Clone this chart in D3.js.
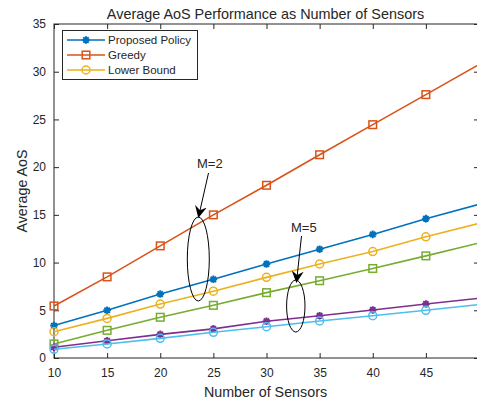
<!DOCTYPE html>
<html><head><meta charset="utf-8">
<script src="https://cdn.jsdelivr.net/npm/d3@7"></script>
<style>body{margin:0;background:#fff}svg{display:block}text{font-family:"Liberation Sans",Arial,sans-serif;fill:#262626}</style>
</head><body><svg id="c" width="477" height="405"></svg>
<script>
const sensors = [10,15,20,25,30,35,40,45,50];
const proposedM2 = [3.4,5.0,6.7,8.25,9.85,11.4,12.95,14.6,16.1];
const greedyM2   = [5.45,8.5,11.75,15.0,18.1,21.3,24.45,27.6,30.75];
const lowerM2    = [2.75,4.15,5.65,7.0,8.45,9.85,11.15,12.7,14.1];
const proposedM5 = [1.12,1.8,2.48,3.05,3.85,4.43,5.03,5.66,6.25];
const greedyM5   = [1.47,2.9,4.27,5.52,6.85,8.1,9.38,10.7,12.05];
const lowerM5    = [0.91,1.47,2.06,2.69,3.28,3.88,4.43,5.0,5.6];
const xTicks = [10,15,20,25,30,35,40,45];
const yTicks = [0,5,10,15,20,25,30,35];
const legendLabels = ["Proposed Policy","Greedy","Lower Bound"];

const series = [
  {v:proposedM2,c:"#0072BD",m:"star"},
  {v:greedyM2,c:"#D95319",m:"square"},
  {v:lowerM2,c:"#EDB120",m:"circle"},
  {v:greedyM5,c:"#77AC30",m:"square"},
  {v:proposedM5,c:"#7E2F8E",m:"star"},
  {v:lowerM5,c:"#4DBEEE",m:"circle"}
];

const svg = d3.select("#c");
const L=54,R=479,T=24,B=358;
const x = d3.scaleLinear().domain([10,50]).range([L,R]);
const y = d3.scaleLinear().domain([0,35]).range([B,T]);

// axes
const ax = svg.append("g");
ax.append("rect").attr("x",L).attr("y",T).attr("width",R-L).attr("height",B-T)
  .attr("fill","none").attr("stroke","#262626").attr("stroke-width",1);
const gx = ax.append("g").attr("transform",`translate(0,${B})`)
  .call(d3.axisBottom(x).tickValues(xTicks).tickSize(-5).tickPadding(10));
const gxt = ax.append("g").attr("transform",`translate(0,${T})`)
  .call(d3.axisTop(x).tickValues(xTicks).tickSize(-5).tickFormat(""));
const gy = ax.append("g").attr("transform",`translate(${L},0)`)
  .call(d3.axisLeft(y).tickValues(yTicks).tickSize(-5).tickPadding(8));
const gyr = ax.append("g").attr("transform",`translate(${R},0)`)
  .call(d3.axisRight(y).tickValues(yTicks).tickSize(-5).tickFormat(""));
[gx,gxt,gy,gyr].forEach(g=>{
  g.select(".domain").remove();
  g.selectAll("line").attr("stroke","#262626");
  g.selectAll("text").attr("font-size",12).attr("fill","#262626")
   .style("font-family","'Liberation Sans',Arial,sans-serif");
});

// marker drawer
function drawMarker(g,type,cx,cy,c){
  if(type==="square"){
    g.append("rect").attr("x",cx-3.8).attr("y",cy-3.8).attr("width",7.6).attr("height",7.6)
     .attr("fill","none").attr("stroke",c).attr("stroke-width",1.5);
  } else if(type==="circle"){
    g.append("circle").attr("cx",cx).attr("cy",cy).attr("r",4)
     .attr("fill","none").attr("stroke",c).attr("stroke-width",1.5);
  } else {
    const r=3.8;
    const p=d3.path();
    for(let k=0;k<4;k++){
      const a=k*Math.PI/4;
      p.moveTo(cx-r*Math.cos(a),cy-r*Math.sin(a));
      p.lineTo(cx+r*Math.cos(a),cy+r*Math.sin(a));
    }
    g.append("path").attr("d",p.toString()).attr("stroke",c).attr("stroke-width",2).attr("fill","none");
  }
}

const line = d3.line().x((d,i)=>x(sensors[i])).y(d=>y(d));
const plot = svg.append("g");
series.forEach(s=>{
  plot.append("path").attr("d",line(s.v)).attr("fill","none").attr("stroke",s.c).attr("stroke-width",1.6);
  s.v.forEach((d,i)=>{ if(sensors[i]<50) drawMarker(plot,s.m,x(sensors[i]),y(d),s.c); });
});

// annotations
const defs = svg.append("defs");
defs.append("marker").attr("id","ah").attr("viewBox","0 0 12 12").attr("refX",11).attr("refY",6)
  .attr("markerWidth",12).attr("markerHeight",12).attr("markerUnits","userSpaceOnUse").attr("orient","auto")
  .append("path").attr("d","M0,0 L12,6 L0,12 L4,6 Z").attr("fill","#000");
const ann = svg.append("g");
function annotate(tx,ty,label,x1,y1,x2,y2,ex,ey,rx,ry){
  ann.append("text").attr("x",tx).attr("y",ty).attr("font-size",13).text(label);
  ann.append("line").attr("x1",x1).attr("y1",y1).attr("x2",x2).attr("y2",y2)
    .attr("stroke","#000").attr("stroke-width",1).attr("marker-end","url(#ah)");
  ann.append("ellipse").attr("cx",ex).attr("cy",ey).attr("rx",rx).attr("ry",ry)
    .attr("fill","none").attr("stroke","#000").attr("stroke-width",1);
}
annotate(197,168,"M=2",208.5,173,198.5,217,198.3,259,11,42);
annotate(291,232,"M=5",301.5,236,296.5,282,295.8,306,9.2,26);

// title and labels
svg.append("text").attr("x",265.5).attr("y",18.5).attr("text-anchor","middle").attr("font-size",14.4).attr("fill","#000")
  .text("Average AoS Performance as Number of Sensors");
svg.append("text").attr("x",265.5).attr("y",397).attr("text-anchor","middle").attr("font-size",14.3)
  .text("Number of Sensors");
svg.append("text").attr("transform",`translate(27,${(T+B)/2}) rotate(-90)`).attr("text-anchor","middle").attr("font-size",14.3)
  .text("Average AoS");

// legend
const lg = svg.append("g");
lg.append("rect").attr("x",62.5).attr("y",30.5).attr("width",135).attr("height",49)
  .attr("fill","#fff").attr("stroke","#262626").attr("stroke-width",1);
legendLabels.forEach((t,i)=>{
  const s=series[i], yy=40+i*15;
  lg.append("line").attr("x1",67).attr("x2",105).attr("y1",yy).attr("y2",yy).attr("stroke",s.c).attr("stroke-width",1.6);
  drawMarker(lg,s.m,86,yy,s.c);
  lg.append("text").attr("x",108).attr("y",yy+4).attr("font-size",11.5).attr("fill","#000").text(t);
});
</script></body></html>
